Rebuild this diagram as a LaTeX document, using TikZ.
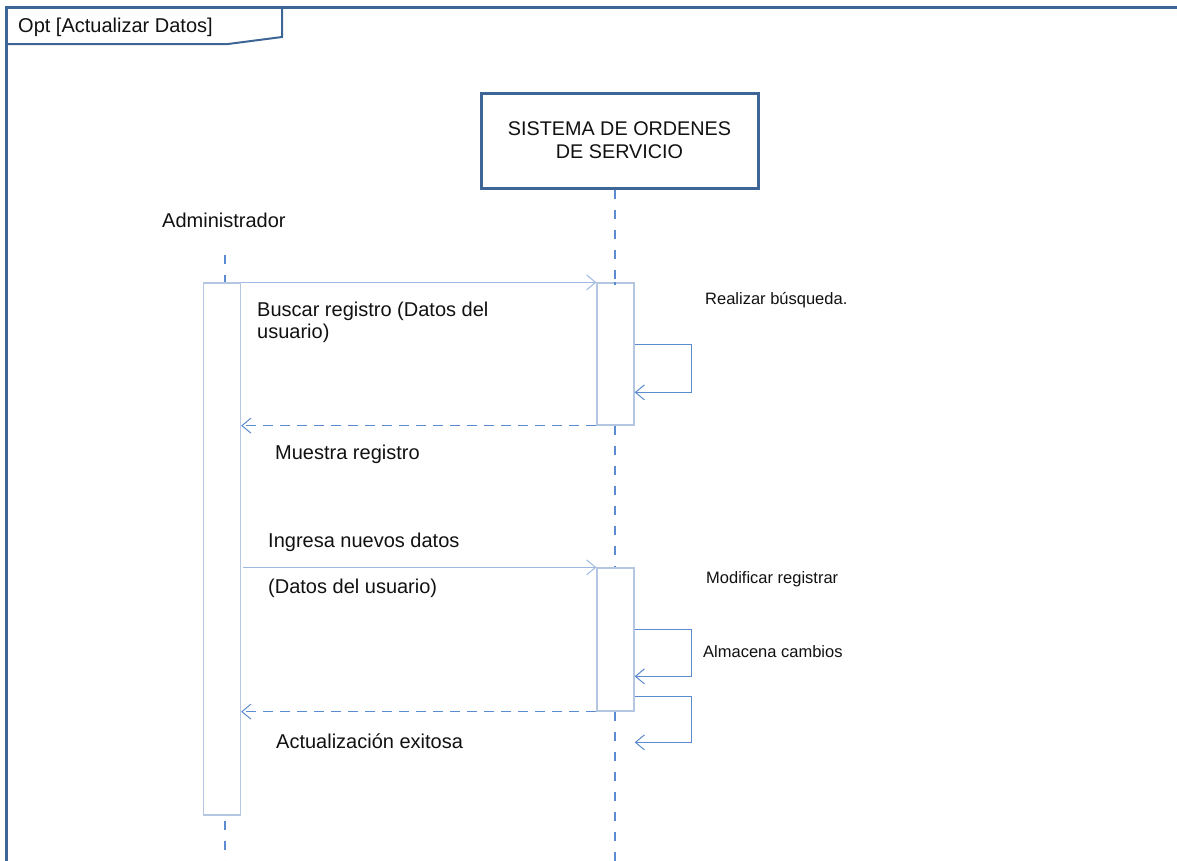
\documentclass[tikz,border=0pt]{standalone}
\usepackage{fontspec}
\setmainfont{Liberation Sans}
\usetikzlibrary{arrows.meta,calc}
\definecolor{framec}{HTML}{3D6596}
\definecolor{actc}{HTML}{B4C6E0}
\definecolor{msgc}{HTML}{9DB9E2}
\definecolor{retc}{HTML}{5B8BD0}
\definecolor{txtc}{HTML}{111111}
\tikzset{
  frameline/.style={draw=framec, line width=3pt},
  tabline/.style={draw=framec, line width=2pt},
  lifeline/.style={draw=retc, line width=1.5pt, dash pattern=on 9pt off 11pt},
  actbox/.style={draw=actc, fill=white, line width=1.3pt, minimum width=37pt, inner sep=0pt},
  headbox/.style={draw=framec, line width=3pt, minimum width=277pt, minimum height=95pt, align=center, font=\fontsize{19.8}{23}\selectfont, text=txtc},
  tip/.style={-{Straight Barb[length=9pt,width=15pt,line width=1pt]}},
  callmsg/.style={tip, draw=msgc, line width=1.1pt},
  retmsg/.style={tip, draw=retc, line width=1.5pt, dash pattern=on 10pt off 7pt},
  selfmsg/.style={tip, draw=retc, line width=1.5pt},
  biglabel/.style={anchor=west, inner sep=0pt, align=left, text=txtc, font=\fontsize{20}{22}\selectfont},
  smalllabel/.style={anchor=west, inner sep=0pt, text=txtc, font=\fontsize{16.5}{18}\selectfont},
}
\begin{document}
\begin{tikzpicture}[x=1pt, y=-1pt]
\useasboundingbox (0,0) rectangle (1177,860);

% combined fragment frame and its tab
\draw[frameline] (6,862) -- (6,7) -- (1180,7);
\draw[tabline] (282,7) -- (282,37) -- (228,44) -- (6,44);
\node[anchor=west, inner sep=0pt, text=txtc, font=\fontsize{20}{22}\selectfont] (fragtitle) at (18,27) {Opt [Actualizar Datos]};

% participants
\node[anchor=west, inner sep=0pt, text=txtc, font=\fontsize{20}{22}\selectfont] (admin) at (162,220) {Administrador};
\node[headbox] (sys) at (619.5,140.5) {SISTEMA DE ORDENES\\DE SERVICIO};

% activation bars
\node[actbox, minimum height=532pt] (aact) at (222,549) {};
\node[actbox, minimum height=142pt] (sact1) at (615.5,354) {};
\node[actbox, minimum height=143pt] (sact2) at (615.5,639.5) {};

% lifelines
\coordinate (adtop) at (225,255);
\coordinate (adbot) at (225,862);
\coordinate (sysbot) at (615,862);
\draw[lifeline] (adtop) -- (adtop |- aact.north);
\draw[lifeline] ($(adtop |- aact.south)+(0,5)$) -- (adbot);
\draw[lifeline] (sys.south -| sysbot) -- ($(sys.south -| sysbot)+(0,95)$);
\draw[lifeline] (sact1.south -| sysbot) -- (sact2.north -| sysbot);
\draw[lifeline] (sact2.south -| sysbot) -- (sysbot);
\draw[lifeline] ($(sys.south -| sysbot)+(0,95)$) -- (sact1.north -| sysbot);

% messages
\draw[callmsg] (aact.north east) -- (sact1.north west);
\draw[retmsg] (sact1.south west) -- (aact.east |- sact1.south west);
\draw[callmsg] ($(aact.east |- sact2.north west)+(2,0)$) -- (sact2.north west);
\draw[retmsg] (sact2.south west) -- (aact.east |- sact2.south west);

% self calls on the system
\draw[selfmsg] ($(sact1.north east)+(0,62)$) -- ++(57,0) -- ++(0,48) -- ($(sact1.north east)+(0,110)$);
\draw[selfmsg] ($(sact2.north east)+(0,62)$) -- ++(57,0) -- ++(0,47) -- ($(sact2.north east)+(0,109)$);
\draw[selfmsg] ($(sact2.north east)+(0,129)$) -- ++(57,0) -- ++(0,46) -- ($(sact2.north east)+(0,175)$);

% labels
\node[biglabel] (lbl1) at (257,322) {Buscar registro (Datos del\\usuario)};
\node[biglabel] (lbl2) at (275,454) {Muestra registro};
\node[biglabel] (lbl3) at (268,542) {Ingresa nuevos datos};
\node[biglabel] (lbl4) at (268,588) {(Datos del usuario)};
\node[biglabel] (lbl5) at (276,741) {Actualización exitosa};
\node[smalllabel] (lbl6) at (705,300) {Realizar búsqueda.};
\node[smalllabel] (lbl7) at (706,579) {Modificar registrar};
\node[smalllabel] (lbl8) at (703,652) {Almacena cambios};
\end{tikzpicture}
\end{document}
